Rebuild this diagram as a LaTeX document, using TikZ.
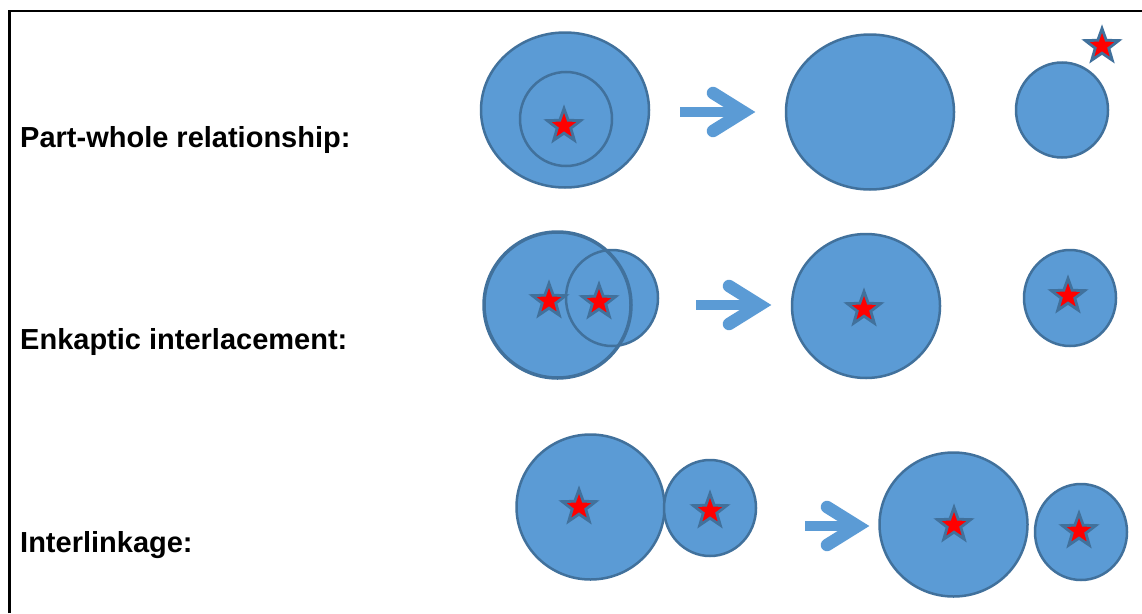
\documentclass[tikz,border=0pt]{standalone}
\usepackage{fontspec}
\setmainfont{Liberation Sans}
\usetikzlibrary{shapes.geometric}
\definecolor{cfill}{HTML}{5B9BD5}
\definecolor{cline}{HTML}{41719C}
\definecolor{cstar}{HTML}{FF0000}
\tikzset{
  blob/.style={ellipse, fill=cfill, draw=cline, line width=2.5pt, inner sep=0pt},
  blobfill/.style={ellipse, fill=cfill, draw=none, inner sep=0pt},
  outl/.style={draw=cline, line width=2.5pt},
  redstar/.style={star, star points=5, star point ratio=2.45, minimum size=35pt, inner sep=0pt,
    fill=cstar, draw=cline, line width=2.8pt},
  lbl/.style={anchor=base west, inner sep=0pt, font=\fontsize{29}{31}\selectfont\bfseries},
  arrowpart/.style={draw=cfill},
  pics/blockarrow/.style={code={
    \draw[arrowpart, line width=10.5pt, line cap=butt] (-#1,0) -- (-19,0);
    \draw[arrowpart, line width=12.5pt, line cap=round, line join=miter] (-42,-19) -- (-11.5,0) -- (-42,19);
  }}
}
\begin{document}
\begin{tikzpicture}[x=1pt, y=-1pt]
\useasboundingbox (0,0) rectangle (1142,613);
\fill[white] (0,0) rectangle (1142,613);
\draw[line width=2.5pt] (9.5,613) -- (9.5,11) -- (1142,11);

% labels
\node[lbl] (l1) at (20,147) {Part-whole relationship:};
\node[lbl] (l2) at (20,349) {Enkaptic interlacement:};
\node[lbl] (l3) at (20,552) {Interlinkage:};

% row 1
\node[blob, minimum width=168pt, minimum height=155pt] (r1a) at (565,110) {};
\node[blob, minimum width=92pt, minimum height=94pt] (r1b) at (566,119) {};
\node[redstar] (s1a) at (564,126) {};
\pic at (755,112) {blockarrow=75};
\node[blob, minimum width=168pt, minimum height=155pt] (r1c) at (870,112) {};
\node[blob, minimum width=92pt, minimum height=95pt] (r1d) at (1062,110) {};
\node[redstar] (s1b) at (1102,46) {};

% row 2
\node[blobfill, minimum width=147pt, minimum height=146pt] (r2a) at (557.5,305) {};
\node[blobfill, minimum width=92pt, minimum height=96pt] (r2b) at (612,298) {};
\draw[outl, line width=3.5pt] (r2a.center) ellipse [x radius=73.5, y radius=73];
\draw[outl] (r2b.center) ellipse [x radius=46, y radius=48];
\node[redstar] (s2a) at (549,301) {};
\node[redstar] (s2b) at (599,302) {};
\pic at (771,305) {blockarrow=75};
\node[blob, minimum width=148pt, minimum height=144pt] (r2c) at (866,306) {};
\node[redstar] (s2c) at (864,309) {};
\node[blob, minimum width=92pt, minimum height=96pt] (r2d) at (1070,298) {};
\node[redstar] (s2d) at (1068,296) {};

% row 3
\node[blob, minimum width=148pt, minimum height=145pt] (r3a) at (590.5,507) {};
\node[blob, minimum width=92pt, minimum height=96pt] (r3b) at (710,508) {};
\node[redstar] (s3a) at (579,507) {};
\node[redstar] (s3b) at (710,511) {};
\pic at (869,526) {blockarrow=64};
\node[blob, minimum width=148pt, minimum height=144pt] (r3c) at (953.5,524.5) {};
\node[blob, minimum width=92pt, minimum height=96pt] (r3d) at (1081,532) {};
\node[redstar] (s3c) at (954,525) {};
\node[redstar] (s3d) at (1079,531) {};
\end{tikzpicture}
\end{document}
